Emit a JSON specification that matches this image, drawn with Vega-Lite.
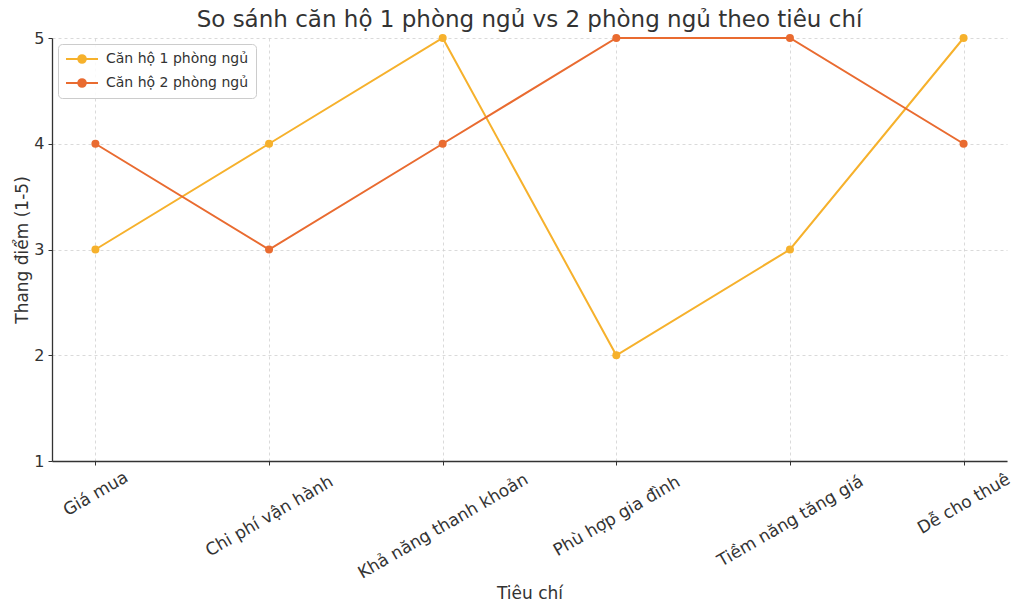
{
  "$schema": "https://vega.github.io/schema/vega-lite/v6.json",
  "width": 955,
  "height": 423,
  "autosize": {"type": "none"},
  "padding": {"left": 52, "top": 38, "right": 17, "bottom": 153},
  "background": "white",
  "title": {
    "text": "So sánh căn hộ 1 phòng ngủ vs 2 phòng ngủ theo tiêu chí",
    "font": "DejaVu Sans",
    "fontSize": 23,
    "fontWeight": "normal",
    "color": "#333333",
    "baseline": "alphabetic",
    "offset": 9,
    "dy": 29,
    "anchor": "middle"
  },
  "data": {
    "values": [
      {"tieu_chi": "Giá mua", "loai": "Căn hộ 1 phòng ngủ", "diem": 3},
      {"tieu_chi": "Chi phí vận hành", "loai": "Căn hộ 1 phòng ngủ", "diem": 4},
      {"tieu_chi": "Khả năng thanh khoản", "loai": "Căn hộ 1 phòng ngủ", "diem": 5},
      {"tieu_chi": "Phù hợp gia đình", "loai": "Căn hộ 1 phòng ngủ", "diem": 2},
      {"tieu_chi": "Tiềm năng tăng giá", "loai": "Căn hộ 1 phòng ngủ", "diem": 3},
      {"tieu_chi": "Dễ cho thuê", "loai": "Căn hộ 1 phòng ngủ", "diem": 5},
      {"tieu_chi": "Giá mua", "loai": "Căn hộ 2 phòng ngủ", "diem": 4},
      {"tieu_chi": "Chi phí vận hành", "loai": "Căn hộ 2 phòng ngủ", "diem": 3},
      {"tieu_chi": "Khả năng thanh khoản", "loai": "Căn hộ 2 phòng ngủ", "diem": 4},
      {"tieu_chi": "Phù hợp gia đình", "loai": "Căn hộ 2 phòng ngủ", "diem": 5},
      {"tieu_chi": "Tiềm năng tăng giá", "loai": "Căn hộ 2 phòng ngủ", "diem": 5},
      {"tieu_chi": "Dễ cho thuê", "loai": "Căn hộ 2 phòng ngủ", "diem": 4}
    ]
  },
  "mark": {
    "type": "line",
    "strokeWidth": 2,
    "clip": false,
    "point": {"filled": true, "size": 64}
  },
  "encoding": {
    "x": {
      "field": "tieu_chi",
      "type": "nominal",
      "sort": null,
      "scale": {"type": "point", "padding": 0.25},
      "axis": {
        "title": "Tiêu chí",
        "titleY": 137,
        "titleBaseline": "alphabetic",
        "labelAngle": -30,
        "labelAlign": "center",
        "labelBaseline": "middle",
        "labelOverlap": false,
        "labelBound": false,
        "labelLimit": 0,
        "labelFontSize": 17,
        "labelPadding": {"expr": "11 + 2.5 * length(datum.label)"},
        "grid": true
      }
    },
    "y": {
      "field": "diem",
      "type": "quantitative",
      "scale": {"domain": [1, 5], "nice": false, "zero": false},
      "axis": {
        "title": "Thang điểm (1-5)",
        "values": [1, 2, 3, 4, 5],
        "titleX": -25,
        "titleBaseline": "alphabetic",
        "labelPadding": 4
      }
    },
    "color": {
      "field": "loai",
      "type": "nominal",
      "sort": null,
      "scale": {
        "domain": ["Căn hộ 1 phòng ngủ", "Căn hộ 2 phòng ngủ"],
        "range": ["#F6B12C", "#E96B30"]
      },
      "legend": {
        "title": null,
        "orient": "top-left",
        "offset": 6,
        "padding": 7,
        "fillColor": "rgba(255,255,255,0.85)",
        "strokeColor": "#cccccc",
        "cornerRadius": 4,
        "symbolType": "M-1,0H3.57M0.75,0A0.54,0.54,0,1,1,1.83,0A0.54,0.54,0,1,1,0.75,0Z",
        "symbolSize": 196,
        "symbolStrokeWidth": 2,
        "labelOffset": 25,
        "rowPadding": 8,
        "labelFontSize": 14,
        "labelFont": "DejaVu Sans",
        "labelColor": "#333333",
        "encode": {
          "symbols": {
            "update": {
              "fill": {"scale": "color", "field": "value"},
              "stroke": {"scale": "color", "field": "value"}
            }
          }
        }
      }
    }
  },
  "config": {
    "view": {"stroke": null},
    "font": "DejaVu Sans",
    "axis": {
      "labelFont": "DejaVu Sans",
      "titleFont": "DejaVu Sans",
      "labelFontSize": 16,
      "titleFontSize": 17,
      "titleFontWeight": "normal",
      "labelColor": "#333333",
      "titleColor": "#333333",
      "domainColor": "#333333",
      "domainWidth": 1.3,
      "tickColor": "#333333",
      "tickSize": 4,
      "tickWidth": 1,
      "gridColor": "#d0d0d0",
      "gridDash": [3, 3],
      "gridWidth": 0.8
    }
  }
}
